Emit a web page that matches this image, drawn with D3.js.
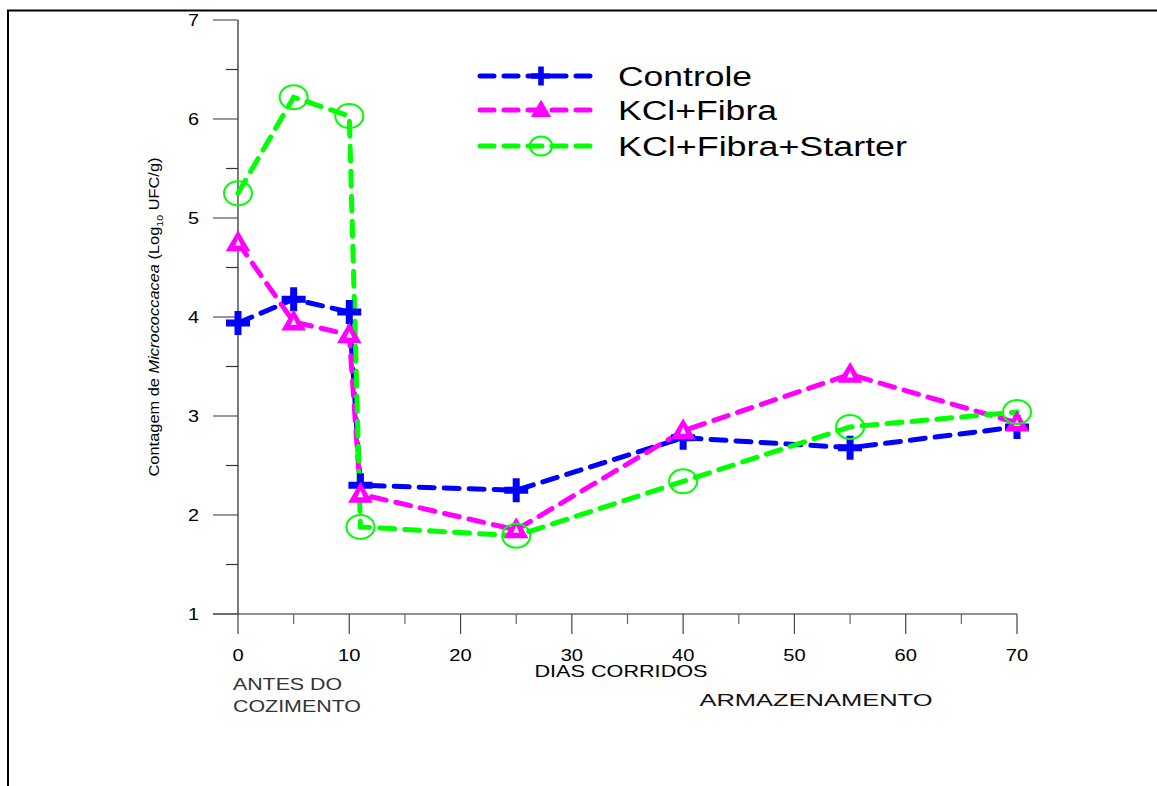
<!DOCTYPE html>
<html><head><meta charset="utf-8">
<script src="https://cdn.jsdelivr.net/npm/d3@7"></script>
<style>body{margin:0;background:#fff;}svg{display:block;font-family:Arial,"Liberation Sans",sans-serif;}</style>
</head><body>
<svg id="c" width="1157" height="786"></svg>
<script>
const days = [0, 5, 10, 11, 25, 40, 55, 70];
const controle = [3.94, 4.18, 4.05, 2.30, 2.25, 2.78, 2.68, 2.89];
const kclFibra = [4.75, 3.95, 3.82, 2.21, 1.85, 2.85, 3.42, 2.93];
const kclFibraStarter = [5.25, 6.22, 6.03, 1.88, 1.79, 2.34, 2.89, 3.04];
const seriesNames = ["Controle", "KCl+Fibra", "KCl+Fibra+Starter"];
const seriesColors = ["#0000ff", "#ff00ff", "#00ff00"];
const xTicks = [0, 10, 20, 30, 40, 50, 60, 70];
const yTicks = [1, 2, 3, 4, 5, 6, 7];

const svg = d3.select("#c");
function stretch(sel, f){
  const n = sel.node();
  const len = n.getComputedTextLength();
  sel.attr("textLength", len*f).attr("lengthAdjust","spacingAndGlyphs");
  return sel;
}
// frame
svg.append("line").attr("x1",7).attr("x2",1157).attr("y1",10.5).attr("y2",10.5).attr("stroke","#000").attr("stroke-width",2);
svg.append("line").attr("x1",8).attr("x2",8).attr("y1",10).attr("y2",786).attr("stroke","#000").attr("stroke-width",2);

const x = d3.scaleLinear().domain([0,70]).range([238,1017]);
const y = d3.scaleLinear().domain([1,7]).range([614,20]);

// axes
const g = svg.append("g");
g.append("line").attr("x1",238).attr("x2",238).attr("y1",y(7)).attr("y2",y(1)).attr("stroke","#222").attr("stroke-width",1.2);
g.append("line").attr("x1",213).attr("x2",x(70)).attr("y1",614).attr("y2",614).attr("stroke","#222").attr("stroke-width",1.2);
yTicks.forEach(v=>{
  g.append("line").attr("x1",213).attr("x2",238).attr("y1",y(v)).attr("y2",y(v)).attr("stroke","#555").attr("stroke-width",1.2);
  const t = g.append("text").attr("x",199).attr("y",y(v)+6).attr("text-anchor","end").attr("font-size",16.5).text(v);
  stretch(t,1.2);
  if (v<7) g.append("line").attr("x1",226).attr("x2",238).attr("y1",y(v+0.5)).attr("y2",y(v+0.5)).attr("stroke","#333").attr("stroke-width",1.2);
});
xTicks.forEach(v=>{
  g.append("line").attr("x1",x(v)).attr("x2",x(v)).attr("y1",614).attr("y2",634).attr("stroke","#444").attr("stroke-width",1.2);
  const t = g.append("text").attr("x",x(v)).attr("y",661).attr("text-anchor","middle").attr("font-size",16.5).text(v);
  stretch(t,1.22);
  if (v<70) g.append("line").attr("x1",x(v+5)).attr("x2",x(v+5)).attr("y1",614).attr("y2",624).attr("stroke","#666").attr("stroke-width",1.2);
});

// axis titles
svg.append("text").attr("x",621).attr("y",677).attr("text-anchor","middle").attr("font-size",16.5).attr("textLength",173).attr("lengthAdjust","spacingAndGlyphs").text("DIAS CORRIDOS");
svg.append("text").attr("x",233).attr("y",690).attr("font-size",16.5).attr("fill","#333").attr("textLength",109).attr("lengthAdjust","spacingAndGlyphs").text("ANTES DO");
svg.append("text").attr("x",233).attr("y",712).attr("font-size",16.5).attr("fill","#333").attr("textLength",128).attr("lengthAdjust","spacingAndGlyphs").text("COZIMENTO");
svg.append("text").attr("x",816).attr("y",706).attr("text-anchor","middle").attr("font-size",17).attr("fill","#111").attr("textLength",233).attr("lengthAdjust","spacingAndGlyphs").text("ARMAZENAMENTO");

const yl = svg.append("text").attr("transform","translate(159,317) rotate(-90)").attr("text-anchor","middle").attr("font-size",14);
yl.append("tspan").text("Contagem de ");
yl.append("tspan").attr("font-style","italic").text("Micrococcacea");
yl.append("tspan").text(" (Log");
yl.append("tspan").attr("font-size",9).attr("dy",4).text("10");
yl.append("tspan").attr("dy",-4).text(" UFC/g)");
yl.attr("textLength",319).attr("lengthAdjust","spacingAndGlyphs");

// markers
function drawMarker(sel, i, cx, cy, scale){
  const c = seriesColors[i];
  if (i===0){
    const s = 12*scale;
    sel.append("path").attr("d",`M${cx-s},${cy}H${cx+s}M${cx},${cy-s}V${cy+s}`).attr("stroke",c).attr("stroke-width",7*scale).attr("fill","none");
  } else if (i===1){
    const s=11*scale;
    sel.append("path").attr("d",`M${cx},${cy-s}L${cx+s},${cy+s*0.7}L${cx-s},${cy+s*0.7}Z`).attr("fill",c).attr("stroke",c).attr("stroke-width",1.5);
    if (scale>0.9) sel.append("path").attr("d",`M${cx},${cy-4}L${cx+3},${cy+3}L${cx-3},${cy+3}Z`).attr("fill","#fff").attr("opacity",0.9);
  } else {
    sel.append("ellipse").attr("cx",cx).attr("cy",cy).attr("rx",14*scale).attr("ry",12*scale).attr("fill","none").attr("stroke",c).attr("stroke-width",2);
  }
}

const data = [controle, kclFibra, kclFibraStarter];
const line = d3.line().x((d,i)=>x(days[i])).y(d=>y(d));
data.forEach((vals,i)=>{
  svg.append("path").datum(vals).attr("d",line).attr("fill","none").attr("stroke",seriesColors[i]).attr("stroke-width",5).attr("stroke-dasharray","15,10").attr("stroke-linecap","round");
});
data.forEach((vals,i)=>{
  const mg = svg.append("g");
  vals.forEach((v,j)=>drawMarker(mg,i,x(days[j]),y(v),1));
});

// legend
const legY = [76, 110, 146];
const legW = [134, 159, 289];
seriesNames.forEach((n,i)=>{
  svg.append("line").attr("x1",480).attr("x2",598).attr("y1",legY[i]).attr("y2",legY[i]).attr("stroke",seriesColors[i]).attr("stroke-width",5).attr("stroke-dasharray","14,10").attr("stroke-linecap","round");
  drawMarker(svg.append("g"), i, 541, legY[i], 0.8);
  svg.append("text").attr("x",618).attr("y",legY[i]+10).attr("font-size",27).attr("textLength",legW[i]).attr("lengthAdjust","spacingAndGlyphs").text(n);
});
</script>
</body></html>
